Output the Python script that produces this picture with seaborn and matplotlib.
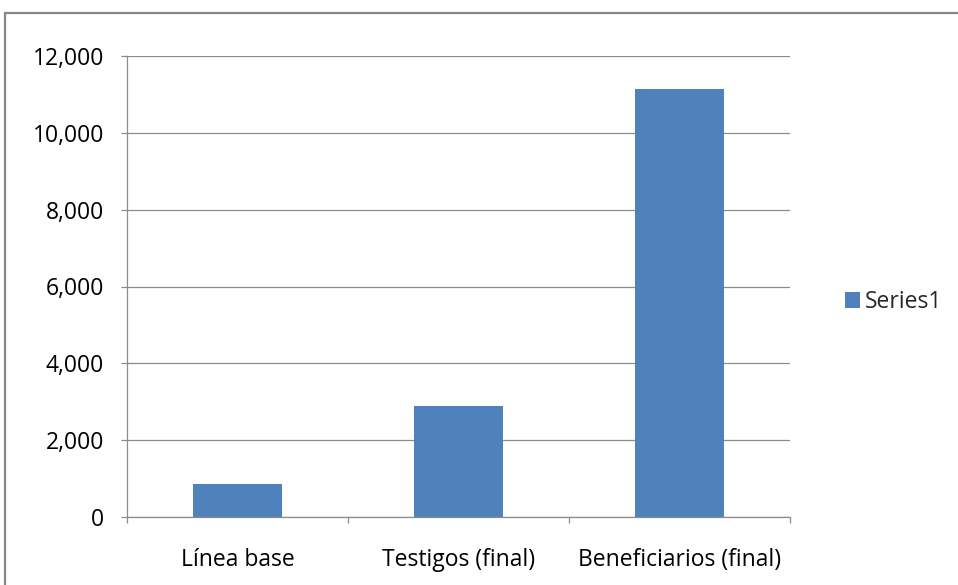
import matplotlib
matplotlib.use("Agg")
import matplotlib.pyplot as plt
import matplotlib.ticker as mticker
from matplotlib.patches import Rectangle
import seaborn as sns
import pandas as pd

categories = ["Línea base", "Testigos (final)", "Beneficiarios (final)"]
values = [850, 2890, 11140]
series_name = "Series1"
yticks = [0, 2000, 4000, 6000, 8000, 10000, 12000]

sns.set_theme(style="white")
plt.rcParams['font.family'] = ['Open Sans', 'DejaVu Sans']

df = pd.DataFrame({"cat": categories, "val": values})

fig = plt.figure(figsize=(9.58, 5.85), dpi=100)
ax = fig.add_axes([127/958, 1-517/585, (790-127)/958, (517-56)/585])

sns.barplot(data=df, x="cat", y="val", color="#4F81BD", width=0.4,
            saturation=1, ax=ax, label=series_name, edgecolor="none")
handles, labels = ax.get_legend_handles_labels()
if ax.get_legend() is not None:
    ax.get_legend().remove()

ax.set_ylim(0, 12000)
ax.set_xlim(-0.5, 2.5)
ax.set_yticks(yticks)
ax.yaxis.set_major_formatter(mticker.FuncFormatter(lambda v, p: f"{int(v):,}"))
ax.set_xlabel("")
ax.set_ylabel("")

grid_c = "#8C8C8C"
ax.yaxis.grid(True, color=grid_c, linewidth=0.9)
ax.set_axisbelow(True)
for s in ["top", "right"]:
    ax.spines[s].set_visible(False)
for s in ["left", "bottom"]:
    ax.spines[s].set_color(grid_c)
    ax.spines[s].set_linewidth(0.9)

fs = 16.5
ax.tick_params(axis="y", which="major", length=4.5, width=0.9, color=grid_c,
               direction="out", pad=12, labelsize=fs, labelcolor="#000000", left=True)
ax.tick_params(axis="x", which="major", length=0, pad=22, labelsize=fs, labelcolor="#000000")
ax.set_xticks([-0.5, 0.5, 1.5, 2.5], minor=True)
ax.tick_params(axis="x", which="minor", length=4.5, width=0.9, color=grid_c,
               direction="out", bottom=True)

# outer chart border
fig.patches.append(Rectangle((5/958, -0.05), 1.2, 1-13/585+0.05,
                             transform=fig.transFigure, fill=False,
                             edgecolor="#868686", linewidth=1.6))

fig.legend(handles, labels, loc="center left", bbox_to_anchor=(824/958, 1-302/585),
           frameon=False, fontsize=fs, handlelength=0.65, handleheight=0.65,
           handletextpad=0.25)

fig.savefig("out.png", dpi=100)
